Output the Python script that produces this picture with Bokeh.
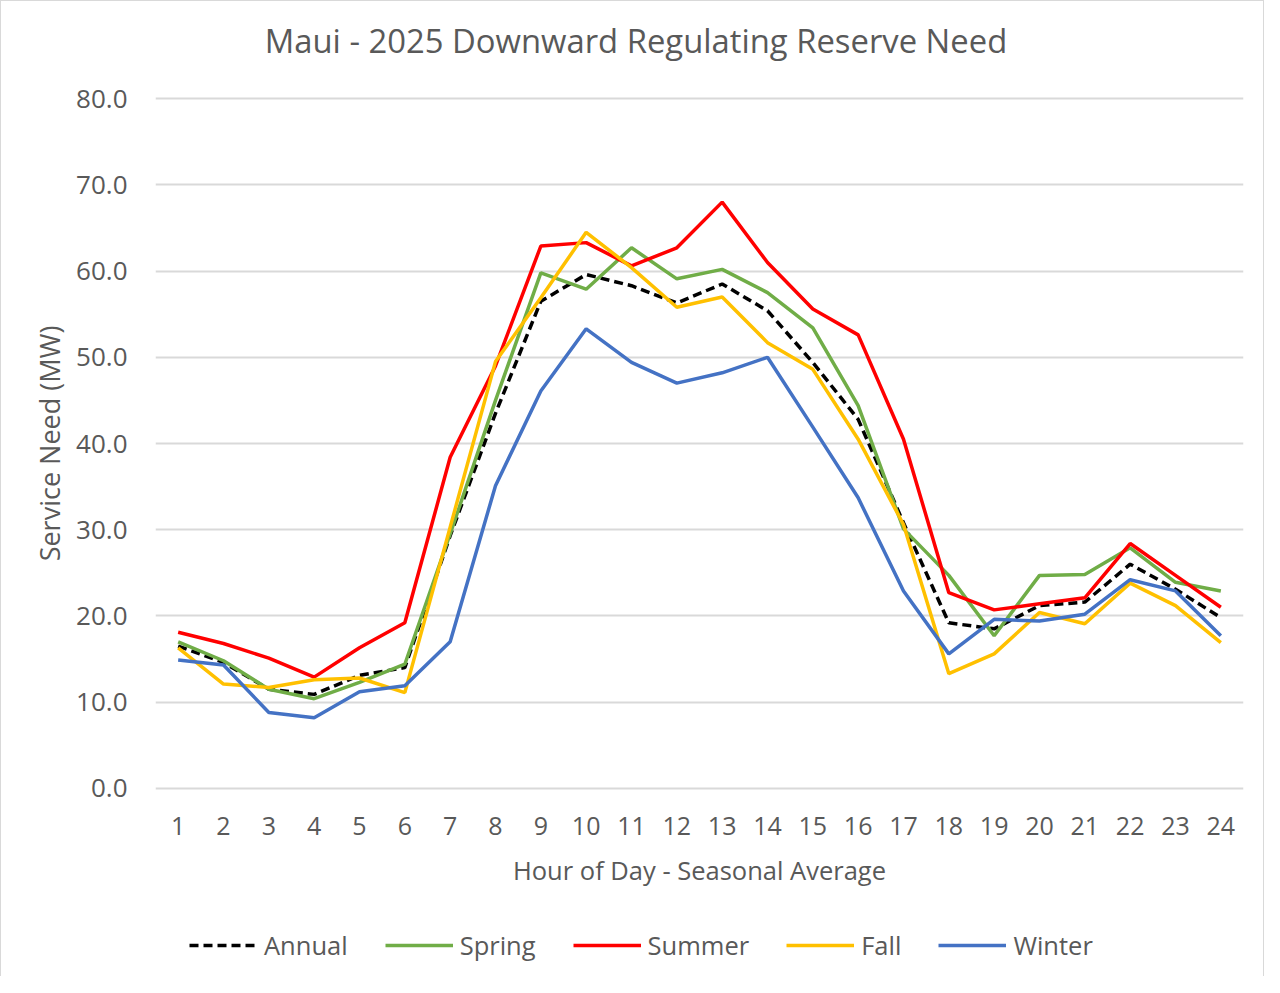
from bokeh.plotting import figure
from bokeh.models import (ColumnDataSource, Range1d, FixedTicker, NumeralTickFormatter,
                          Legend, LegendItem, Label)
from bokeh.layouts import column
from bokeh.embed import file_html
from bokeh.resources import INLINE

# ---------------- data ----------------
hours = list(range(1, 25))
annual = [16.5, 14.6, 11.5, 10.9, 13.1, 14.0, 29.3, 43.5, 56.5, 59.6, 58.3, 56.3,
          58.5, 55.4, 49.4, 42.8, 30.8, 19.2, 18.5, 21.2, 21.6, 26.0, 23.1, 19.8]
spring = [17.0, 14.8, 11.5, 10.4, 12.3, 14.4, 29.5, 45.0, 59.8, 57.9, 62.7, 59.1,
          60.2, 57.5, 53.4, 44.4, 30.1, 24.7, 17.7, 24.7, 24.8, 27.9, 23.9, 22.9]
summer = [18.1, 16.8, 15.1, 12.9, 16.3, 19.2, 38.4, 49.0, 62.9, 63.3, 60.6, 62.7,
          68.0, 61.0, 55.6, 52.6, 40.5, 22.7, 20.7, 21.4, 22.1, 28.4, 24.7, 21.0]
fall = [16.3, 12.1, 11.7, 12.6, 12.8, 11.1, 30.3, 49.5, 56.9, 64.5, 60.4, 55.8,
        57.0, 51.7, 48.6, 40.5, 30.6, 13.3, 15.6, 20.4, 19.1, 23.8, 21.2, 16.9]
winter = [14.9, 14.3, 8.8, 8.2, 11.2, 11.9, 17.0, 35.1, 46.1, 53.3, 49.4, 47.0,
          48.2, 50.0, 41.9, 33.7, 22.9, 15.6, 19.6, 19.4, 20.2, 24.2, 22.9, 17.7]
series_names = ["Annual", "Spring", "Summer", "Fall", "Winter"]
y_ticks = [0, 10, 20, 30, 40, 50, 60, 70, 80]

title_text = "Maui - 2025 Downward Regulating Reserve Need"
x_label = "Hour of Day - Seasonal Average"
y_label = "Service Need (MW)"

# ---------------- styles ----------------
FONT = "Open Sans"
TXT = "#595959"
colors = {"Annual": "#000000", "Spring": "#70AD47", "Summer": "#FF0000",
          "Fall": "#FFC000", "Winter": "#4472C4"}
dashes = {"Annual": "9 5"}
LW = 3.5
series_data = {"Annual": annual, "Spring": spring, "Summer": summer,
               "Fall": fall, "Winter": winter}

W = 1262
BL, BR = 154, 20          # left / right borders shared by all strips (frames align)
HT, HP, HQ = 75, 826, 74

# ---------------- title strip ----------------
t = figure(width=W, height=HT, output_backend="svg", toolbar_location=None,
           x_range=Range1d(BL, W - BR), y_range=Range1d(0, HT),
           x_axis_location=None, y_axis_location=None,
           min_border_left=BL, min_border_right=BR, min_border_top=0, min_border_bottom=0)
t.grid.visible = False
t.outline_line_color = None
t.border_fill_color = "white"
t.add_layout(Label(x=634.5, y=36, text=title_text, text_font=FONT,
                   text_font_size="32.8px", text_color=TXT,
                   text_align="center", text_baseline="middle"))

# ---------------- main plot ----------------
source = ColumnDataSource(dict(hour=hours, **series_data))

p = figure(width=W, height=HP, output_backend="svg", toolbar_location=None,
           x_range=Range1d(0.5, 24.5), y_range=Range1d(-0.25, 80.25),
           min_border_left=BL, min_border_right=BR, min_border_top=20,
           min_border_bottom=112)
p.outline_line_color = None
p.background_fill_color = "white"
p.border_fill_color = "white"

p.xaxis.ticker = FixedTicker(ticks=hours)
p.yaxis.ticker = FixedTicker(ticks=y_ticks)
p.yaxis.formatter = NumeralTickFormatter(format="0.0")
for ax in (p.xaxis, p.yaxis):
    ax.axis_line_color = None
    ax.major_tick_line_color = None
    ax.minor_tick_line_color = None
    ax.major_label_text_font = FONT
    ax.major_label_text_color = TXT
    ax.axis_label_text_font = FONT
    ax.axis_label_text_font_style = "normal"
    ax.axis_label_text_color = TXT
p.xaxis.major_label_text_font_size = "25px"
p.yaxis.major_label_text_font_size = "26px"
p.xaxis.axis_label_text_font_size = "25.5px"
p.yaxis.axis_label_text_font_size = "27px"
p.xaxis.axis_label = x_label
p.yaxis.axis_label = y_label
p.xaxis.major_label_standoff = 20
p.xaxis.axis_label_standoff = 15
p.yaxis.major_label_standoff = 22
p.yaxis.axis_label_standoff = 5

p.xgrid.grid_line_color = None
p.ygrid.grid_line_color = "#d9d9d9"
p.ygrid.grid_line_width = 2

for name in series_names:
    kw = {}
    if name in dashes:
        kw["line_dash"] = dashes[name]
    p.line("hour", name, source=source, line_color=colors[name], line_width=LW, **kw)

# ---------------- legend strip ----------------
q = figure(width=W, height=HQ, output_backend="svg", toolbar_location=None,
           x_range=Range1d(0, 0.1), y_range=Range1d(0, 0.1),
           x_axis_location=None, y_axis_location=None,
           min_border_left=BL, min_border_right=BR, min_border_top=0, min_border_bottom=0)
q.grid.visible = False
q.outline_line_color = None
q.border_fill_color = "white"
items = []
for name in series_names:
    kw = {}
    if name in dashes:
        kw["line_dash"] = dashes[name]
    # same series, lying outside this strip's visible range: only the legend key shows
    r = q.line("hour", name, source=source, line_color=colors[name], line_width=LW, **kw)
    items.append(LegendItem(label=name, renderers=[r]))

legend = Legend(items=items, orientation="horizontal", location=(34, 14))
legend.label_text_font = FONT
legend.label_text_font_size = "25.5px"
legend.label_text_color = TXT
legend.glyph_width = 68
legend.glyph_height = 30
legend.label_height = 30
legend.label_standoff = 7
legend.spacing = 37
legend.padding = 0
legend.margin = 0
legend.border_line_color = None
legend.background_fill_alpha = 0
q.add_layout(legend, "center")

layout = column(t, p, q, spacing=0,
                styles={"border-top": "1px solid #d9d9d9",
                        "border-left": "1px solid #d9d9d9",
                        "border-right": "1px solid #d9d9d9"})
open("out.html", "w").write(file_html(layout, INLINE))
